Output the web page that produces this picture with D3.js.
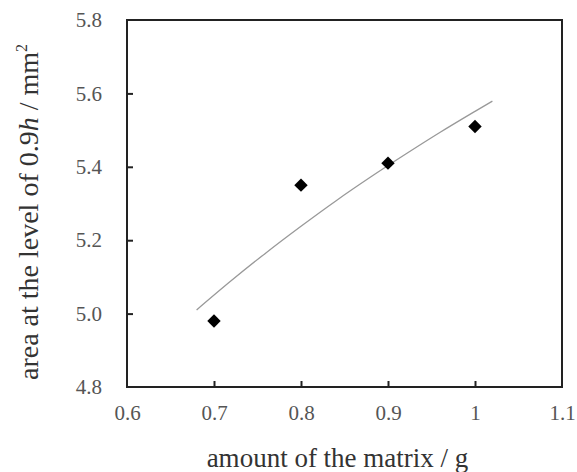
<!DOCTYPE html>
<html>
<head>
<meta charset="utf-8">
<script src="https://cdn.jsdelivr.net/npm/d3@7"></script>
<style>
  body { margin: 0; background: #fff; }
  svg text { font-family: "Liberation Serif", "Times New Roman", serif; }
</style>
</head>
<body>
<svg width="577" height="472"></svg>
<script>
// measured points
const matrixAmount = [0.7, 0.8, 0.9, 1.0];
const areaValues = [4.98, 5.35, 5.41, 5.51];

// trend curve
const curveX = [0.68, 0.72, 0.76, 0.80, 0.84, 0.88, 0.92, 0.96, 1.00, 1.02];
const curveY = [5.01, 5.09, 5.166, 5.238, 5.307, 5.372, 5.434, 5.494, 5.551, 5.579];

// tick labels
const xTicks = [0.6, 0.7, 0.8, 0.9, 1.0, 1.1];
const yTicks = [4.8, 5.0, 5.2, 5.4, 5.6, 5.8];

const svg = d3.select("svg");

// plot box
const plotLeft = 127, plotRight = 562, plotTop = 20, plotBottom = 387;

const x = d3.scaleLinear().domain([0.6, 1.1]).range([plotLeft, plotRight]);
const y = d3.scaleLinear().domain([4.8, 5.8]).range([plotBottom, plotTop]);

// frame
svg.append("rect")
  .attr("x", plotLeft).attr("y", plotTop)
  .attr("width", plotRight - plotLeft).attr("height", plotBottom - plotTop)
  .attr("fill", "none")
  .attr("stroke", "#222")
  .attr("stroke-width", 2);

// axes with inner ticks
const xAxis = d3.axisBottom(x)
  .tickValues(xTicks)
  .tickSize(-6)
  .tickPadding(18)
  .tickFormat(d => d3.format("")(+d.toFixed(1)));

const yAxis = d3.axisLeft(y)
  .tickValues(yTicks)
  .tickSize(-6)
  .tickPadding(25)
  .tickFormat(d3.format(".1f"));

const xg = svg.append("g")
  .attr("transform", `translate(0,${plotBottom})`)
  .call(xAxis);
const yg = svg.append("g")
  .attr("transform", `translate(${plotLeft},0)`)
  .call(yAxis);

[xg, yg].forEach(g => {
  g.attr("font-family", "Liberation Serif").attr("font-size", 21);
  g.select(".domain").remove();
  g.selectAll(".tick line").attr("stroke", "#222").attr("stroke-width", 2);
  g.selectAll(".tick text").attr("fill", "#555");
});
// hide ticks at the frame corners
xg.selectAll(".tick line").filter(d => d === 0.6 || d === 1.1).remove();
yg.selectAll(".tick line").filter(d => d === 4.8 || d === 5.8).remove();

// trend line
const curve = curveX.map((v, i) => [v, curveY[i]]);
svg.append("path")
  .datum(curve)
  .attr("fill", "none")
  .attr("stroke", "#999")
  .attr("stroke-width", 1.3)
  .attr("d", d3.line().x(d => x(d[0])).y(d => y(d[1])).curve(d3.curveMonotoneX));

// diamond markers
const diamond = d3.symbol().type(d3.symbolSquare).size(90);
svg.selectAll(".pt")
  .data(matrixAmount)
  .enter()
  .append("path")
  .attr("class", "pt")
  .attr("d", diamond)
  .attr("fill", "#000")
  .attr("transform", (d, i) => `translate(${x(d)},${y(areaValues[i])}) rotate(45)`);

// axis titles
svg.append("text")
  .attr("x", (plotLeft + plotRight) / 2 - 7)
  .attr("y", 467)
  .attr("text-anchor", "middle")
  .attr("fill", "#333")
  .style("font-size", "27px")
  .text("amount of the matrix / g");

const yt = svg.append("text")
  .attr("transform", "translate(38,212) rotate(-90)")
  .attr("text-anchor", "middle")
  .attr("fill", "#333")
  .style("font-size", "28px");
yt.append("tspan").text("area at the level of 0.9");
yt.append("tspan").attr("font-style", "italic").text("h");
yt.append("tspan").text(" / mm");
yt.append("tspan").attr("dy", -11).style("font-size", "16px").text("2");
</script>
</body>
</html>
